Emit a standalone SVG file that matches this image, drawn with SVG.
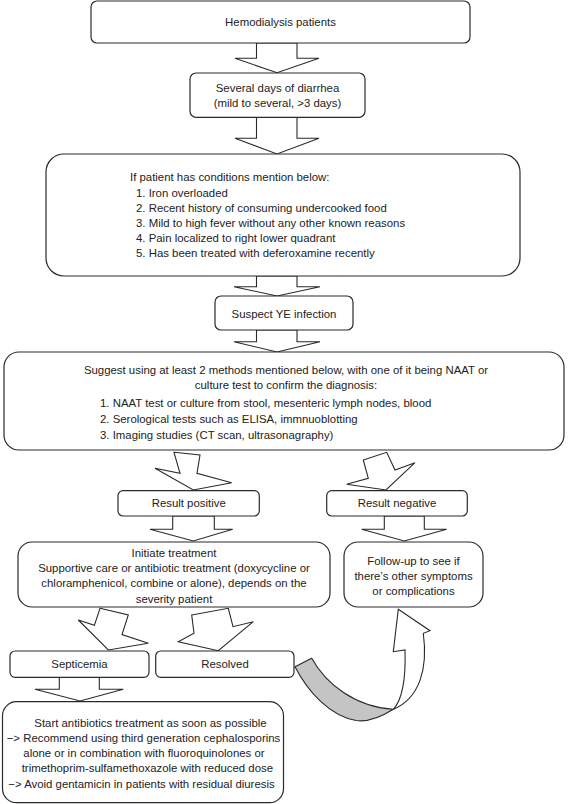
<svg xmlns="http://www.w3.org/2000/svg" width="568" height="804" viewBox="0 0 568 804">
<style>
.box{fill:#fff;stroke:#2a2a2a;stroke-width:1.2}
.arr{fill:#fff;stroke:#2a2a2a;stroke-width:1.1;stroke-linejoin:miter}
.band{fill:#c4c4c4;stroke:#2a2a2a;stroke-width:1.1}
text{font-family:"Liberation Sans",Arial,sans-serif;font-size:11.4px;fill:#222}
.c{text-anchor:middle}
</style>
<rect width="568" height="804" fill="#fff"/>
<g id="connectors">
<polygon class="arr" points="256.5,43 297,43 297,58.3 319,58.3 277,72.7 235,58.3 256.5,58.3"/>
<polygon class="arr" points="256.5,117.3 297,117.3 297,138.3 319,138.3 277,154 235,138.3 256.5,138.3"/>
<polygon class="arr" points="256.5,276 297,276 297,286.7 320,286.7 277,296 234,286.7 256.5,286.7"/>
<polygon class="arr" points="256.5,330 297,330 297,341.7 320,341.7 277,352 234,341.7 256.5,341.7"/>
<polygon class="arr" points="174,452.3 200,455 197,473.3 231.7,482.7 193.3,490 155,468.3 180,473.3"/>
<polygon class="arr" points="363.3,460 386.7,452.3 395,470 415,462.7 386,490 346.7,484.3 368.3,478.3"/>
<polygon class="arr" points="172.7,516 214.3,516 214.3,529.3 232.7,529.3 193.3,541 150,529.3 172.7,529.3"/>
<polygon class="arr" points="384.3,516 424.3,516 424.3,529.3 446.7,529.3 404.3,541 361.7,529.3 384.3,529.3"/>
<polygon class="arr" points="100,608.3 128.3,615 122,634.6 148.3,643.3 108.3,650 78.3,620 94.4,625.3"/>
<polygon class="arr" points="191.7,615 228.3,608.3 233,626.7 253.3,621.7 218.3,650.7 178.3,641.7 194,633.3"/>
<polygon class="arr" points="59.3,677.3 99.3,677.3 99.3,689.3 123.3,689.3 80,701 35,689.3 59.3,689.3"/>
<path class="band" d="M311.7,658.3 C326,684 355,707 393.3,709.3 C378,719 366,722 356,720.5 C330,716 308,692 295,666.7 Z"/>
<path class="arr" d="M393.3,709.3 C402,700 406,682 405,650 L393.3,651.7 L398.3,609.3 L430,630.7 L423.3,633.3 C428,668 420,698 393.3,709.3 Z"/>
</g>
<g id="n1"><rect class="box" x="91" y="1" width="379" height="42" rx="6"/>
<text class="c" x="280.5" y="26">Hemodialysis patients</text></g>
<g id="n2"><rect class="box" x="190" y="73" width="175" height="44.3" rx="6"/>
<text class="c" x="277.5" y="91.5">Several days of diarrhea</text>
<text class="c" x="277.5" y="106.5">(mild to several, &gt;3 days)</text></g>
<g id="n3"><rect class="box" x="46" y="154" width="474" height="122" rx="18"/>
<text x="130" y="181">If patient has conditions mention below:</text>
<text x="136" y="196.5">1. Iron overloaded</text>
<text x="136" y="211.5">2. Recent history of consuming undercooked food</text>
<text x="136" y="226.5">3. Mild to high fever without any other known reasons</text>
<text x="136" y="241.5">4. Pain localized to right lower quadrant</text>
<text x="136" y="257">5. Has been treated with deferoxamine recently</text></g>
<g id="n4"><rect class="box" x="215" y="296" width="138" height="34" rx="6"/>
<text class="c" x="284" y="317.5">Suspect YE infection</text></g>
<g id="n5"><rect class="box" x="4" y="352" width="560" height="98" rx="15"/>
<text class="c" x="286" y="374">Suggest using at least 2 methods mentioned below, with one of it being NAAT or</text>
<text class="c" x="286" y="389">culture test to confirm the diagnosis:</text>
<text x="100" y="407.3">1. NAAT test or culture from stool, mesenteric lymph nodes, blood</text>
<text x="100" y="423.3">2. Serological tests such as ELISA, immnuoblotting</text>
<text x="100" y="439">3. Imaging studies (CT scan, ultrasonagraphy)</text></g>
<g id="n6"><rect class="box" x="118" y="490.7" width="141.3" height="25.3" rx="5"/>
<text class="c" x="188.7" y="507">Result positive</text></g>
<g id="n7"><rect class="box" x="326.7" y="490.7" width="140.6" height="25.3" rx="5"/>
<text class="c" x="397" y="507">Result negative</text></g>
<g id="n8"><rect class="box" x="18" y="542" width="312" height="65" rx="14"/>
<text class="c" x="174" y="556.7">Initiate treatment</text>
<text class="c" x="174" y="572.3">Supportive care or antibiotic treatment (doxycycline or</text>
<text class="c" x="174" y="587.3">chloramphenicol, combine or alone), depends on the</text>
<text class="c" x="174" y="603">severity patient</text></g>
<g id="n9"><rect class="box" x="344" y="542" width="139" height="65" rx="14"/>
<text class="c" x="413.5" y="564.7">Follow-up to see if</text>
<text class="c" x="413.5" y="580">there’s other symptoms</text>
<text class="c" x="413.5" y="595">or complications</text></g>
<g id="n10"><rect class="box" x="10" y="651" width="139" height="26.3" rx="5"/>
<text class="c" x="79.5" y="668">Septicemia</text></g>
<g id="n11"><rect class="box" x="155.7" y="651" width="138.3" height="26.3" rx="5"/>
<text class="c" x="225" y="668">Resolved</text></g>
<g id="n12"><rect class="box" x="2.5" y="701.7" width="281" height="101" rx="14"/>
<text x="34.3" y="727.3">Start antibiotics treatment as soon as possible</text>
<text x="6.7" y="742.3">−&gt; Recommend using third generation cephalosporins</text>
<text x="23.3" y="757.3">alone or in combination with fluoroquinolones or</text>
<text x="21.7" y="772.3">trimethoprim-sulfamethoxazole with reduced dose</text>
<text x="8.3" y="788">−&gt; Avoid gentamicin in patients with residual diuresis</text></g>
</svg>
